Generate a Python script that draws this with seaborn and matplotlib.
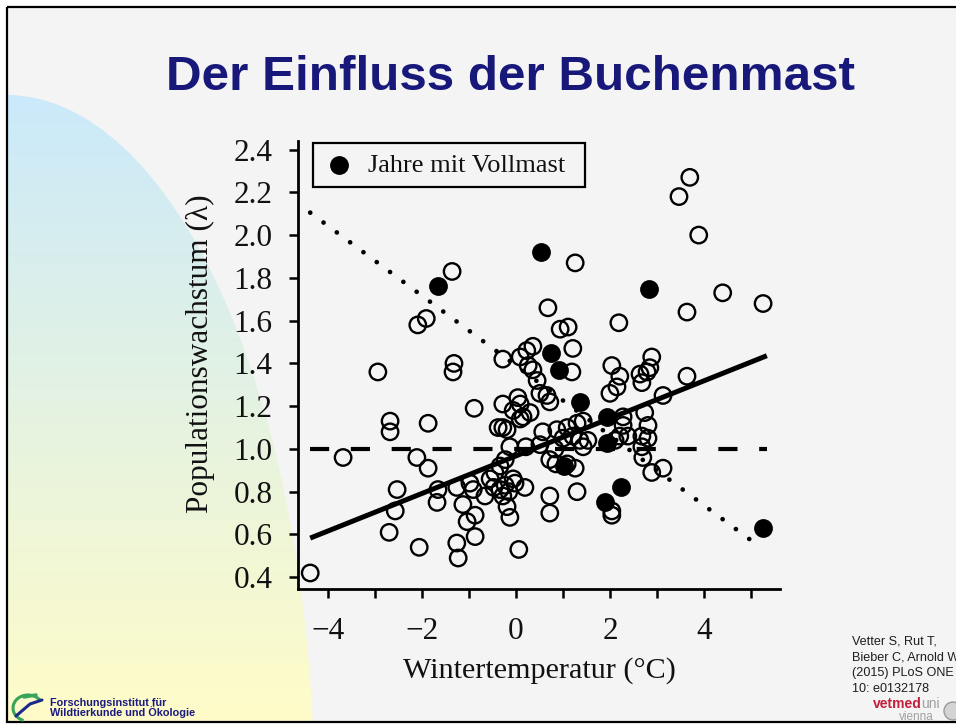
import numpy as np
import pandas as pd
import matplotlib
matplotlib.use("Agg")
import matplotlib.pyplot as plt
from matplotlib.patches import Ellipse, Rectangle, Arc, Circle
from matplotlib import font_manager
from matplotlib.font_manager import FontProperties
import seaborn as sns

# ---------------- data ----------------
temp_open = [-4.38, -3.68, -2.94, -2.68, -2.68, -2.70, -2.57, -2.53, -2.06, -1.87,
             -2.11, -1.87, -2.09, -1.91, -1.36, -1.32, -1.34, -0.89, -1.66, -1.68,
             -1.26, -0.98, -0.91, -1.13, -0.87, -1.04, -0.87, -1.26, -1.23, -0.66,
             -0.55, -0.45, -0.34, -0.23, -0.47, -0.34, -0.23, -0.15, -0.28, -0.19,
             -0.13, 0.19, 0.06, 0.72, 0.72, -0.06, -0.13, 0.21, 0.72, 0.85,
             1.09, 1.26, 1.30, 0.57, 0.87, 1.00, 0.51, -0.28, 0.09, 0.23,
             0.36, 0.26, 0.36, 0.45, 0.51, 0.66, 0.72, 0.04, 0.09, -0.06,
             0.15, -0.28, 0.30, -0.38, -0.28, -0.19, 0.09, 0.68, 0.94, 1.11,
             1.26, 1.21, 1.19, 2.19, 2.04, 2.21, 2.15, 2.00, 2.64, 2.79,
             2.68, 2.89, 2.85, 3.13, 3.64, 2.28, 2.28, 2.21, 2.11, 2.74,
             2.81, 2.81, 2.68, 2.70, 2.89, 3.13, 2.68, 2.04, 2.04, 1.36,
             1.53, 1.43, 1.30, 1.43, 1.09, 1.21, 3.70, 3.47, 3.89, 4.40,
             5.26, 3.64, -0.02, 2.38, 0.83]
lambda_open = [0.42, 0.96, 1.36, 1.13, 1.08, 0.61, 0.71, 0.81, 0.54, 1.12,
               0.96, 0.91, 1.58, 1.61, 1.83, 1.40, 1.36, 1.19, 0.81, 0.75,
               0.82, 0.84, 0.81, 0.74, 0.69, 0.66, 0.59, 0.56, 0.49, 0.78,
               0.86, 0.89, 0.92, 0.95, 0.82, 0.81, 0.83, 0.80, 0.78, 0.73,
               0.68, 0.82, 0.53, 0.78, 0.70, 0.86, 1.01, 1.01, 0.95, 0.93,
               0.93, 0.91, 0.80, 1.08, 1.09, 1.05, 1.02, 1.42, 1.43, 1.46,
               1.48, 1.39, 1.37, 1.32, 1.26, 1.25, 1.22, 1.24, 1.21, 1.18,
               1.15, 1.21, 1.17, 1.10, 1.10, 1.09, 1.14, 1.66, 1.56, 1.57,
               1.87, 1.47, 1.36, 1.59, 1.39, 1.34, 1.29, 1.26, 1.35, 1.36,
               1.31, 1.43, 1.38, 1.25, 1.34, 1.15, 1.11, 1.06, 1.04, 1.17,
               1.11, 1.05, 1.06, 0.96, 0.89, 0.91, 1.01, 0.71, 0.69, 1.04,
               1.04, 1.01, 1.12, 1.13, 1.10, 1.06, 2.27, 2.18, 2.00, 1.73,
               1.68, 1.64, 0.84, 1.06, 1.00]

temp_mast = [-1.66, 0.53, 2.83, 0.74, 0.91, 1.36, 1.94, 1.94, 1.02, 2.23, 1.89, 5.26]
lambda_mast = [1.76, 1.92, 1.75, 1.45, 1.37, 1.22, 1.15, 1.03, 0.92, 0.82, 0.75, 0.63]

fit_all_x = [-4.38, 5.34]
fit_all_y = [0.583, 1.436]
ref_x = [-4.38, 5.34]
ref_y = [1.0, 1.0]
fit_mast_x = [-4.38, 5.02]
fit_mast_y = [2.105, 0.57]

xticks_major = [-4, -2, 0, 2, 4]
xticks_minor = [-3, -1, 1, 3, 5]
yticks = [0.4, 0.6, 0.8, 1.0, 1.2, 1.4, 1.6, 1.8, 2.0, 2.2, 2.4]
ytick_labels = ["0.4", "0.6", "0.8", "1.0", "1.2", "1.4", "1.6", "1.8", "2.0", "2.2", "2.4"]

title = "Der Einfluss der Buchenmast"
xlabel = "Wintertemperatur (°C)"
ylabel = "Populationswachstum (λ)"
legend_label = "Jahre mit Vollmast"
institute = ["Forschungsinstitut für", "Wildtierkunde und Ökologie"]
citation = ["Vetter S, Rut T,", "Bieber C, Arnold W", "(2015) PLoS ONE", "10: e0132178"]

# ---------------- style ----------------
sns.set_theme(style="ticks")
plt.rcParams["font.family"] = ["Liberation Serif", "DejaVu Serif"]
plt.rcParams["axes.unicode_minus"] = True

W, H = 956, 725
fig = plt.figure(figsize=(W / 100, H / 100), dpi=100)
fig.patch.set_facecolor("white")

SANS = ["Liberation Sans", "DejaVu Sans"]

# background slide
bg = fig.add_axes([0, 0, 1, 1])
bg.set_xlim(0, W)
bg.set_ylim(H, 0)
bg.axis("off")
bg.add_patch(Rectangle((7, 7), 1000, 715, facecolor="#f4f4f4", edgecolor="none", zorder=0))
top_c = np.array([202, 233, 251]) / 255
bot_c = np.array([255, 252, 200]) / 255
t = np.linspace(0, 1, 256)[:, None]
grad = (top_c[None, :] * (1 - t) + bot_c[None, :] * t)[:, None, :]
im = bg.imshow(grad, extent=(7, 340, 722, 90), aspect="auto", zorder=1, interpolation="bilinear")
ell = Ellipse((6, 790), 2 * 308, 2 * 695, transform=bg.transData)
im.set_clip_path(ell)
bg.add_patch(Rectangle((7, 7), 1000, 715, facecolor="none", edgecolor="black", lw=1.6, zorder=5))

# title (condensed font if available, else fitted to the reference width)
try:
    font_manager.findfont(FontProperties(family="Liberation Sans Narrow", weight="bold"),
                          fallback_to_default=False)
    title_family = ["Liberation Sans Narrow", "Liberation Sans"]
except Exception:
    title_family = SANS
title_txt = fig.text(511 / W, 1 - 90 / H, title, ha="center", va="baseline", fontsize=42,
                     fontweight="bold", color="#18187a", family=title_family)
fig.canvas.draw()
tw = title_txt.get_window_extent().width
if tw > 690:
    title_txt.set_fontsize(42 * 690 / tw)

# institute logo
bg.add_patch(Arc((28, 708), 30, 26, theta1=110, theta2=330, color="#3aa35a", lw=2.2, zorder=6))
bg.plot([16, 30, 42], [716, 704, 700], color="#1c2a8a", lw=2.2, zorder=6)
bg.plot([24, 36], [697, 695], color="#3aa35a", lw=2.5, zorder=6)
fig.text(50 / W, 1 - 705.5 / H, institute[0], ha="left", va="baseline", fontsize=7.8,
         fontweight="bold", color="#1a1a80", family=SANS)
fig.text(50 / W, 1 - 716.5 / H, institute[1], ha="left", va="baseline", fontsize=7.8,
         fontweight="bold", color="#1a1a80", family=SANS)

# citation
for i, line in enumerate(citation):
    fig.text(852 / W, 1 - (644 + 16 * i) / H, line, ha="left", va="baseline", fontsize=9.1,
             color="#1e1e1e", family=SANS)
fig.text(873 / W, 1 - 708.5 / H, "vetmed", ha="left", va="baseline", fontsize=10,
         fontweight="bold", color="#c41e3a", family=SANS)
fig.text(921 / W, 1 - 708.5 / H, "uni", ha="left", va="baseline", fontsize=10,
         color="#a0a0a0", family=SANS)
fig.text(899 / W, 1 - 720 / H, "vienna", ha="left", va="baseline", fontsize=8.5,
         color="#a0a0a0", family=SANS)
bg.add_patch(Circle((953, 711), 9, facecolor="#d4d4d4", edgecolor="#9a9a9a", lw=1, zorder=6))

# ---------------- main axes ----------------
ax = fig.add_axes([298 / W, (H - 589) / H, 482 / W, 448 / H])
ax.patch.set_alpha(0)

df_open = pd.DataFrame({"temp": temp_open, "lam": lambda_open})
df_mast = pd.DataFrame({"temp": temp_mast, "lam": lambda_mast})

ax.plot(fit_mast_x, fit_mast_y, color="black", lw=3.4, linestyle=(0, (0.01, 3.5)),
        dash_capstyle="round", zorder=2)
ax.plot(ref_x, ref_y, color="black", lw=3.0, linestyle=(0, (4.6, 5.2)), zorder=2)
ax.plot(fit_all_x, fit_all_y, color="black", lw=3.6, solid_capstyle="butt", zorder=2)

sns.scatterplot(data=df_open, x="temp", y="lam", ax=ax, s=140, facecolors="none",
                edgecolor="black", linewidth=1.7, zorder=4, legend=False)
ax.collections[-1].set_facecolor("none")
sns.scatterplot(data=df_mast, x="temp", y="lam", ax=ax, s=140, color="black",
                edgecolor="black", linewidth=1.7, zorder=5, label=legend_label)

ax.set_xlim(-4.64, 5.62)
ax.set_ylim(0.345, 2.44)
ax.set_xticks(xticks_major)
ax.set_xticks(xticks_minor, minor=True)
ax.set_yticks(yticks)
ax.set_yticklabels(ytick_labels)
for s in ["top", "right"]:
    ax.spines[s].set_visible(False)
for s in ["left", "bottom"]:
    ax.spines[s].set_linewidth(2.0)
    ax.spines[s].set_color("black")
ax.tick_params(axis="both", which="both", direction="out", length=6.5, width=1.8,
               color="black", labelsize=22.5, labelcolor="#111111")
ax.tick_params(axis="x", which="both", pad=14)
ax.tick_params(axis="y", pad=12)

ax.set_xlabel(xlabel, fontsize=21.7, color="#111111")
ax.set_ylabel(ylabel, fontsize=22.5, color="#111111")
ax.xaxis.set_label_coords(0.5, -0.152)
ax.yaxis.set_label_coords(-0.172, 0.525)

leg = ax.legend(loc="upper left", bbox_to_anchor=(0.031, 0.5, 0.564, 0.496), mode="expand",
                frameon=True, fancybox=False, edgecolor="black", facecolor="#f4f4f4",
                framealpha=1, fontsize=19, borderpad=0.4, handletextpad=0.5,
                handlelength=1.2, borderaxespad=0)
leg.get_frame().set_linewidth(1.6)
for txt in leg.get_texts():
    txt.set_color("#111111")

fig.savefig("out.png", dpi=100, facecolor=fig.get_facecolor())
